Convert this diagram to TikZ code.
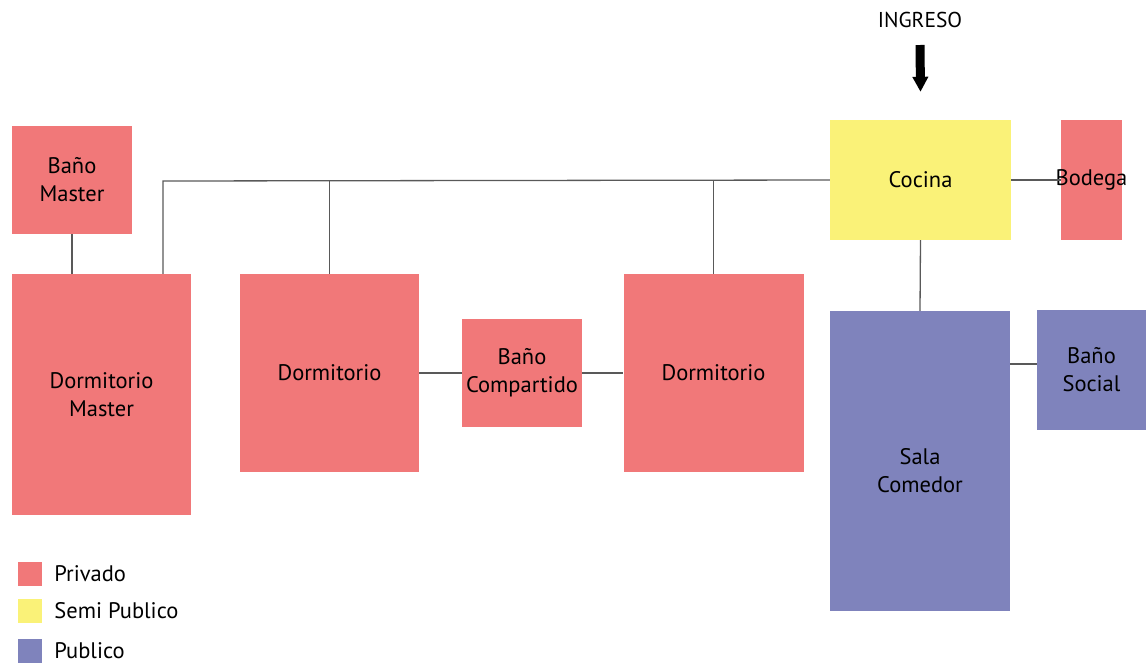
\documentclass[tikz,border=0pt]{standalone}
\usepackage{fontspec}
\setmainfont{PT Sans}
\usetikzlibrary{positioning,arrows.meta,calc}
\definecolor{privado}{RGB}{241,120,121}
\definecolor{semipub}{RGB}{250,242,120}
\definecolor{publico}{RGB}{127,131,188}
\newcommand{\roomfont}{\fontsize{22.5}{28}\selectfont}
\tikzset{room/.style={fill=privado, inner sep=0pt, align=center, font=\roomfont},
  link/.style={draw=black!65, line width=1.3pt},
  key/.style={minimum size=24pt, inner sep=0pt},
  keytext/.style={inner sep=0pt, anchor=west, font=\roomfont}}

\begin{document}
\begin{tikzpicture}[x=1pt, y=-1pt, node distance=12pt]
  \useasboundingbox (0,0) rectangle (1146,665);

  % rooms
  \node[room, minimum width=120pt, minimum height=108pt] (bmaster) at (72,180) {Baño\\Master};
  \node[room, minimum width=179pt, minimum height=241pt] (dmaster) at (101.5,394.5) {Dormitorio\\Master};
  \node[room, minimum width=179pt, minimum height=198pt] (dorm1) at (329.5,373) {Dormitorio};
  \node[room, minimum width=120pt, minimum height=108pt] (bcomp) at (522,373) {Baño\\Compartido};
  \node[room, minimum width=180pt, minimum height=198pt] (dorm2) at (713.5,373) {Dormitorio};
  \node[room, fill=semipub, minimum width=181pt, minimum height=120pt] (cocina) at (920.5,180) {Cocina};
  \node[room, minimum width=61pt, minimum height=120pt,
        label={[font=\roomfont]center:Bodega}] (bodega) at (1091.5,180) {};
  \node[room, fill=publico, minimum width=180pt, minimum height=300pt,
        label={[font=\roomfont, align=center, yshift=-10pt]center:Sala\\Comedor}] (sala) at (920,461) {};
  \node[room, fill=publico, minimum width=109pt, minimum height=120pt] (bsocial) at (1091.5,370) {Baño\\Social};

  % ingreso
  \node[inner sep=0pt, font=\fontsize{21.5}{24}\selectfont] (ingreso) at (920,20) {INGRESO};
  \coordinate (in) at (920,45);
  \draw[line width=9pt, -{Triangle[width=15pt,length=15pt]}] (in) -- ([yshift=28pt]cocina.north);

  % connectors
  \coordinate (t1) at (163,181);
  \draw[link] (cocina.west) -- (t1) -- (t1 |- dmaster.north);
  \draw[link] (dorm1.north) -- (dorm1.north |- cocina.west);
  \draw[link] (dorm2.north) -- (dorm2.north |- cocina.west);
  \draw[link] (bmaster.south) -- (bmaster.south |- dmaster.north);
  \draw[link] (dorm1.east) -- (bcomp.west);
  \draw[link] (bcomp.east) -- (dorm2.west);
  \draw[link] (cocina.east) -- (bodega.west);
  \draw[link] (cocina.south) -- (sala.north);
  \draw[link] ([yshift=6pt]bsocial.west) -- ([yshift=6pt]bsocial.west -| sala.east);

  % legend
  \node[key, fill=privado] (kpriv) at (30,574) {};
  \node[key, fill=semipub] (ksemi) at (30,610.5) {};
  \node[key, fill=publico] (kpub) at (30,650.5) {};
  \node[keytext, right=of kpriv] (lpriv) {Privado};
  \node[keytext, right=of ksemi] (lsemi) {Semi Publico};
  \node[keytext, right=of kpub] (lpub) {Publico};
\end{tikzpicture}
\end{document}
